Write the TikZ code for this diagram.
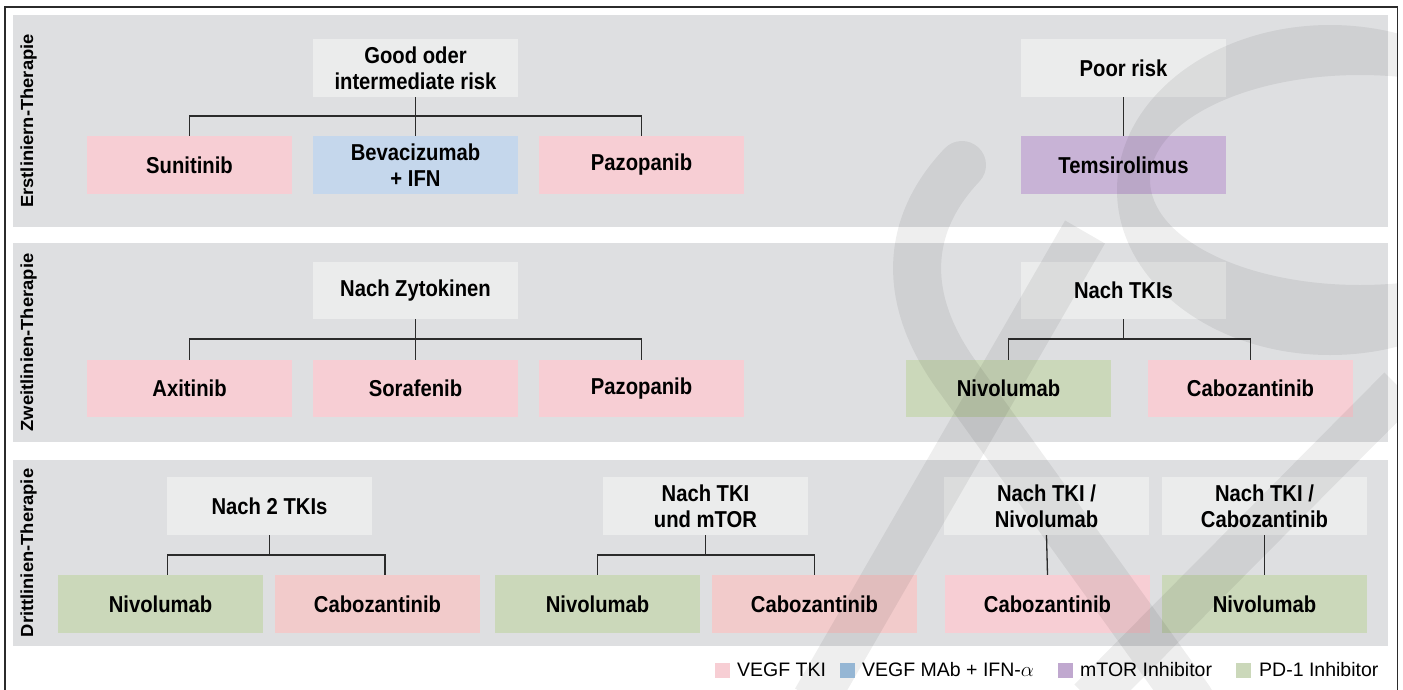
\documentclass[tikz,border=0pt]{standalone}
\usepackage{fontspec}
\setmainfont{Liberation Sans}
\newfontfamily\condf[FakeStretch=0.88]{Liberation Sans}
\newfontfamily\labf[FakeStretch=1.05]{Liberation Sans}
\usetikzlibrary{calc}
\definecolor{bandgray}{HTML}{DEDFE1}
\definecolor{headgray}{HTML}{EBECEC}
\definecolor{tkipink}{HTML}{F7CED4}
\definecolor{tkipinkb}{HTML}{F2CBCB}
\definecolor{mabblue}{HTML}{C5D7EC}
\definecolor{mtorpurple}{HTML}{C8B3D6}
\definecolor{pdgreen}{HTML}{CBD8BA}
\definecolor{legblue}{HTML}{A0C4E4}
\definecolor{legpurple}{HTML}{C0A8CF}
\definecolor{lineclr}{HTML}{2B2B2B}
\begin{document}
\begin{tikzpicture}[x=1pt,y=-1pt,
  box/.style={rectangle, inner sep=0pt, minimum width=205pt, minimum height=58pt,
    align=center, font=\condf\bfseries\fontsize{23}{26}\selectfont},
  head/.style={box, fill=headgray},
  tki/.style={box, fill=tkipink},
  tkib/.style={box, fill=tkipinkb},
  mab/.style={box, fill=mabblue},
  mtor/.style={box, fill=mtorpurple},
  pdone/.style={box, fill=pdgreen},
  conn/.style={draw=lineclr, line width=1.3pt},
  band/.style={fill=bandgray},
  bandlabel/.style={rotate=90, inner sep=0pt, font=\labf\bfseries\fontsize{17.5}{20}\selectfont},
  legsq/.style={rectangle, inner sep=0pt, minimum size=15pt},
  legtext/.style={anchor=west, inner sep=0pt, font=\fontsize{19.5}{22}\selectfont},
  wm/.style={fill=black, fill opacity=0.065},
  wms/.style={black, draw opacity=0.065}
]
\useasboundingbox (0,0) rectangle (1403,689);
\fill[white] (0,0) rectangle (1403,689);
% frame
\draw[line width=1.3pt, draw=lineclr] (5,690) -- (5,7) -- (1397.5,7) -- (1397.5,690);
% bands
\fill[band] (13,15) rectangle (1388,227);
\fill[band] (13,243) rectangle (1388,442);
\fill[band] (13,460) rectangle (1388,646);
\node[bandlabel] (lab1) at (28.5,121) {Erstliniern-Therapie};
\node[bandlabel] (lab2) at (28.5,342.5) {Zweitlinien-Therapie};
\node[bandlabel] (lab3) at (28.5,553) {Drittlinien-Therapie};

% band 1
\node[head] (g) at (415.5,68) {Good oder\\intermediate risk};
\node[tki] (sun) at (189.5,165) {Sunitinib};
\node[mab] (bev) at (415.5,165) {Bevacizumab\\+ IFN};
\node[tki] (paz1) at (641.5,165) {Pazopanib};
\node[head] (poor) at (1123.5,68) {Poor risk};
\node[mtor] (tem) at (1123.5,165) {Temsirolimus};
\coordinate (j1) at (415.5,116);
\draw[conn] (sun.north) |- (j1) -| (paz1.north);
\draw[conn] (g.south) -- (bev.north);
\draw[conn] (poor.south) -- (tem.north);

% band 2
\node[head, minimum height=57pt] (nz) at (415.5,290.5) {Nach Zytokinen};
\node[tki, minimum height=57pt] (axi) at (189.5,388.5) {Axitinib};
\node[tki, minimum height=57pt] (sor) at (415.5,388.5) {Sorafenib};
\node[tki, minimum height=57pt] (paz2) at (641.5,388.5) {Pazopanib};
\coordinate (j2) at (415.5,339);
\draw[conn] (axi.north) |- (j2) -| (paz2.north);
\draw[conn] (nz.south) -- (sor.north);
\node[head, minimum height=57pt] (nt) at (1123.5,290.5) {Nach TKIs};
\node[pdone, minimum height=57pt] (niv2) at (1008.5,388.5) {Nivolumab};
\node[tki, minimum height=57pt] (cab2) at (1250.5,388.5) {Cabozantinib};
\coordinate (j3) at (1123.5,339);
\draw[conn] (niv2.north) |- (j3) -| (cab2.north);
\draw[conn] (nt.south) -- (j3);

% band 3
\node[head] (n2) at (269.5,506) {Nach 2 TKIs};
\node[pdone] (niv3a) at (160.5,604) {Nivolumab};
\node[tkib] (cab3a) at (377.5,604) {Cabozantinib};
\coordinate (j4) at (269.5,555);
\draw[conn] ($(niv3a.north)+(7,0)$) |- (j4) -| ($(cab3a.north)+(7.5,0)$);
\draw[conn] (n2.south) -- (j4);

\node[head] (ntm) at (705.5,506) {Nach TKI\\und mTOR};
\node[pdone] (niv3b) at (597.5,604) {Nivolumab};
\node[tkib] (cab3b) at (814.5,604) {Cabozantinib};
\coordinate (j5) at (705.5,555);
\draw[conn] (niv3b.north) |- (j5) -| (cab3b.north);
\draw[conn] (ntm.south) -- (j5);

\node[head] (ntn) at (1046.5,506) {Nach TKI /\\Nivolumab};
\node[tki] (cab3c) at (1047.5,604) {Cabozantinib};
\draw[conn] (ntn.south) -- (cab3c.north);
\node[head] (ntc) at (1264.5,506) {Nach TKI /\\Cabozantinib};
\node[pdone] (niv3c) at (1264.5,604) {Nivolumab};
\draw[conn] (ntc.south) -- (niv3c.north);

% legend
\node[legsq, fill=tkipink] (sq1) at (722.5,670) {};
\node[legtext] (lt1) at (737,670) {VEGF TKI};
\node[legsq, fill=legblue] (sq2) at (847.5,670) {};
\node[legtext] (lt2) at (862,670) {VEGF MAb + IFN-$\alpha$};
\node[legsq, fill=legpurple] (sq3) at (1065,670) {};
\node[legtext] (lt3) at (1080,670) {mTOR Inhibitor};
\node[legsq, fill=pdgreen] (sq4) at (1243.5,670) {};
\node[legtext] (lt4) at (1259,670) {PD-1 Inhibitor};

% watermark
\begin{scope}
\clip (0,0) rectangle (1397,689);
\fill[wm, even odd rule] (1330,190) ellipse [x radius=213, y radius=165]
   (1360,180) ellipse [x radius=210, y radius=105];
\draw[wms, line width=44pt] (1400,388) -- (1090,700);
\draw[wms, line width=46pt] (1085,232) -- (815,700);
\draw[wms, line width=48pt, line cap=round] (962,165) .. controls (905,225) and (900,300) .. (960,380) -- (1190,700);
\end{scope}
\end{tikzpicture}
\end{document}
